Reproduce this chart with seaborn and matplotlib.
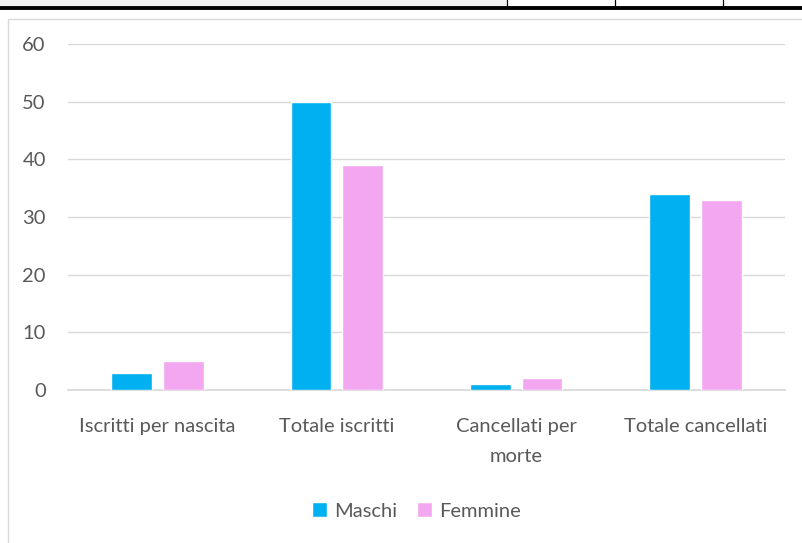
import matplotlib
matplotlib.use("Agg")
import matplotlib.pyplot as plt
import seaborn as sns
import pandas as pd
from matplotlib.patches import Rectangle
from matplotlib.lines import Line2D

categories = ["Iscritti per nascita", "Totale iscritti", "Cancellati per\nmorte", "Totale cancellati"]
maschi = [3, 50, 1, 34]
femmine = [5, 39, 2, 33]
series = ["Maschi", "Femmine"]
colors = ["#00B0F0", "#F2A7F0"]
yticks = [0, 10, 20, 30, 40, 50, 60]

df = pd.DataFrame({
    "cat": categories * 2,
    "val": maschi + femmine,
    "sex": [series[0]] * 4 + [series[1]] * 4,
})

sns.set_theme(style="white")
plt.rcParams["font.family"] = ["Lato", "DejaVu Sans"]
txt = "#595959"

W, H = 803, 543
fig = plt.figure(figsize=(W / 100, H / 100), dpi=100)

# chart frame and top strip
fig.patches.append(Rectangle((0, 1 - 6 / H), 507 / W, 6 / H, transform=fig.transFigure,
                             facecolor="#f0f0f0", edgecolor="none", zorder=0))
fig.lines.append(Line2D([0, 1], [1 - 7.5 / H, 1 - 7.5 / H], transform=fig.transFigure,
                        color="black", lw=2.8))
for xv in [507, 615, 723]:
    fig.lines.append(Line2D([xv / W, xv / W], [1 - 8 / H, 1], transform=fig.transFigure,
                            color="black", lw=0.9))
fig.patches.append(Rectangle((8 / W, -0.01), 1.0, 1 - 19 / H + 0.01, transform=fig.transFigure,
                             facecolor="none", edgecolor="#d9d9d9", lw=1.0))

ax = fig.add_axes([68 / W, 1 - 390 / H, (785 - 68) / W, (390 - 44) / H])
sns.barplot(data=df, x="cat", y="val", hue="sex", palette=colors, width=0.578, gap=0.21,
            ax=ax, legend=True, saturation=1, zorder=3)
ax.set_xlim(-0.5, 3.5)
ax.set_ylim(0, 60)
ax.set_yticks(yticks)
ax.grid(axis="y", color="#d9d9d9", lw=1.0, zorder=0)
ax.set_axisbelow(True)
for s in ["top", "right", "left"]:
    ax.spines[s].set_visible(False)
ax.spines["bottom"].set_color("#d9d9d9")
ax.set_xlabel("")
ax.set_ylabel("")
ax.tick_params(axis="both", length=0, colors=txt, labelsize=14.5)
ax.tick_params(axis="x", pad=20)
ax.tick_params(axis="y", pad=16)
for lab in ax.get_xticklabels():
    lab.set_linespacing(1.95)

leg = ax.legend(loc="center", bbox_to_anchor=(0.486, (390 - 511) / (390 - 44)),
                ncol=2, frameon=False, fontsize=14.5, handlelength=0.75, handleheight=0.75,
                handletextpad=0.35, columnspacing=1.0)
for t in leg.get_texts():
    t.set_color(txt)

fig.savefig("out.png", dpi=100)
